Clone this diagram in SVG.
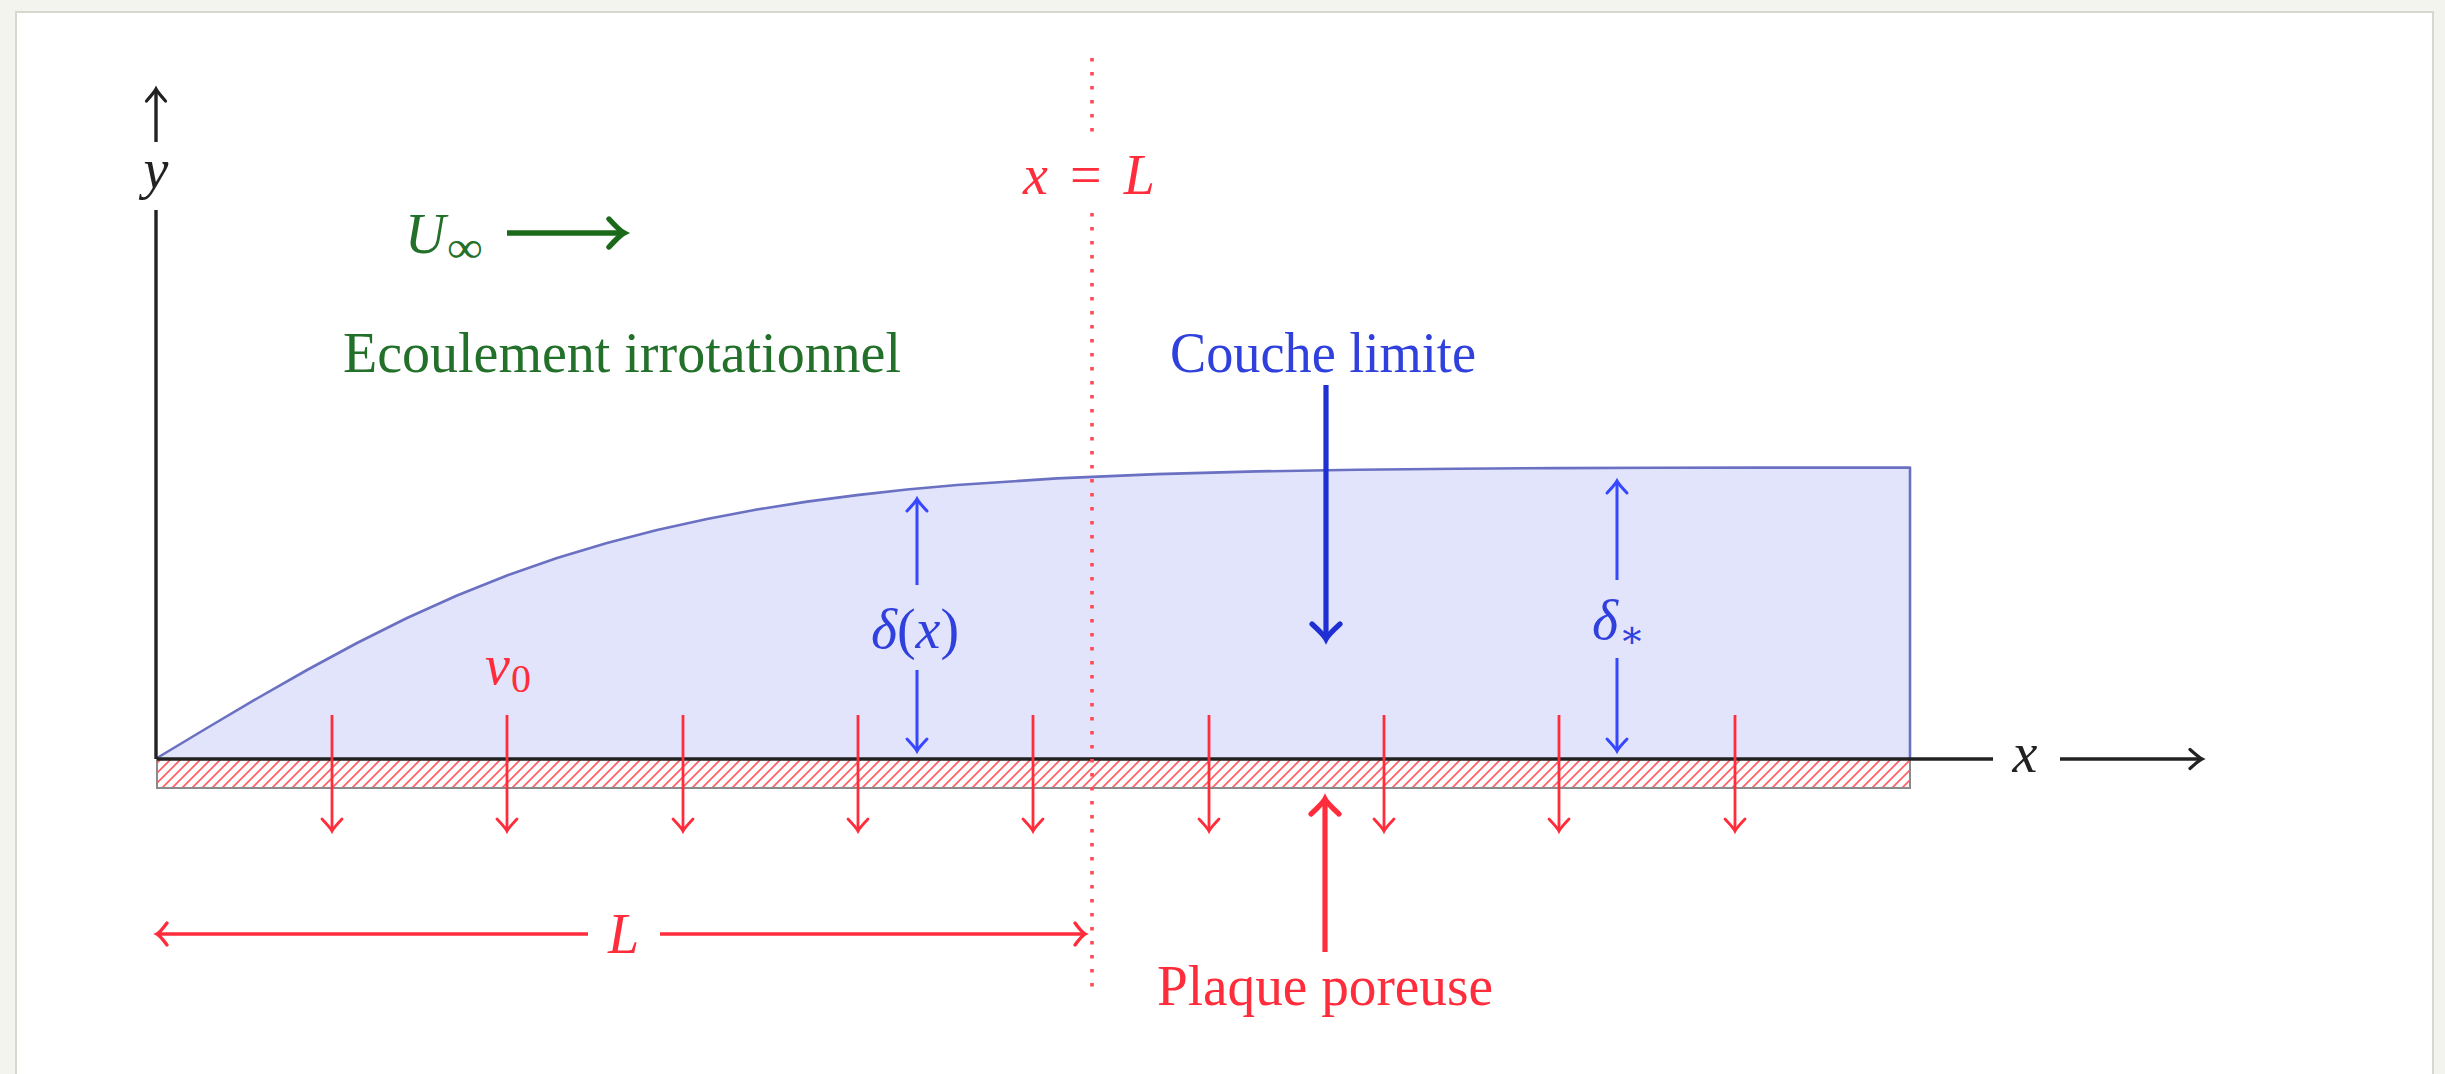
<svg xmlns="http://www.w3.org/2000/svg" width="2445" height="1074" viewBox="0 0 2445 1074">
<style>
  .serif { font-family: "Liberation Serif", "DejaVu Serif", serif; font-size: 56px; }
  .it { font-style: italic; }
  .red { fill: #ff2d3c; }
  .green { fill: #23702a; }
  .blue { fill: #3040dd; }
  .blk { fill: #222; }
  .axis { stroke: #222; stroke-width: 3.4; fill: none; }
  .rarrow { stroke: #ff2d3c; stroke-width: 2.8; fill: none; }
  .barrow { stroke: #3548ff; stroke-width: 3; fill: none; }
</style>
<defs>
  <marker id="ah-black" markerUnits="userSpaceOnUse" orient="auto" refX="0" refY="0" markerWidth="30" markerHeight="30" viewBox="-20 -15 30 30" overflow="visible">
    <path d="M-12,-9.5 Q-3,-1.5 0,0 Q-3,1.5 -12,9.5" fill="none" stroke="#222" stroke-width="3.2" stroke-linecap="round"/>
  </marker>
  <marker id="ah-red-s" markerUnits="userSpaceOnUse" orient="auto" refX="0" refY="0" markerWidth="30" markerHeight="30" viewBox="-20 -15 30 30" overflow="visible">
    <path d="M-12,-10 Q-3,-1.5 0,0 Q-3,1.5 -12,10" fill="none" stroke="#ff2d3c" stroke-width="2.8" stroke-linecap="round"/>
  </marker>
  <marker id="ah-red-b" markerUnits="userSpaceOnUse" orient="auto" refX="0" refY="0" markerWidth="40" markerHeight="40" viewBox="-25 -20 40 40" overflow="visible">
    <path d="M-15,-14 Q-4,-2 0,0 Q-4,2 -15,14" fill="none" stroke="#ff2d3c" stroke-width="5.2" stroke-linecap="round"/>
  </marker>
  <marker id="ah-red-m" markerUnits="userSpaceOnUse" orient="auto" refX="0" refY="0" markerWidth="30" markerHeight="30" viewBox="-20 -15 30 30" overflow="visible">
    <path d="M-10,-11 Q-3,-1.5 0,0 Q-3,1.5 -10,11" fill="none" stroke="#ff2d3c" stroke-width="3.4" stroke-linecap="round"/>
  </marker>
  <marker id="ah-blue-s" markerUnits="userSpaceOnUse" orient="auto" refX="0" refY="0" markerWidth="30" markerHeight="30" viewBox="-20 -15 30 30" overflow="visible">
    <path d="M-12,-10 Q-3,-1.5 0,0 Q-3,1.5 -12,10" fill="none" stroke="#3548ff" stroke-width="3" stroke-linecap="round"/>
  </marker>
  <marker id="ah-blue-b" markerUnits="userSpaceOnUse" orient="auto" refX="0" refY="0" markerWidth="40" markerHeight="40" viewBox="-25 -20 40 40" overflow="visible">
    <path d="M-15,-14 Q-4,-2 0,0 Q-4,2 -15,14" fill="none" stroke="#1f2fd4" stroke-width="5.2" stroke-linecap="round"/>
  </marker>
  <marker id="ah-green-b" markerUnits="userSpaceOnUse" orient="auto" refX="0" refY="0" markerWidth="40" markerHeight="40" viewBox="-25 -20 40 40" overflow="visible">
    <path d="M-15,-14 Q-4,-2 0,0 Q-4,2 -15,14" fill="none" stroke="#1b6a1b" stroke-width="5.4" stroke-linecap="round"/>
  </marker>
  <pattern id="hatch" patternUnits="userSpaceOnUse" width="10" height="10">
    <path d="M-2.5,2.5 l5,-5 M0,10 l10,-10 M7.5,12.5 l5,-5" stroke="#ff6268" stroke-width="1.8"/>
  </pattern>
</defs>

<rect x="0" y="0" width="2445" height="1074" fill="#f4f4ee"/>
<rect id="panel" x="16" y="12" width="2417" height="1070" fill="#ffffff" stroke="#d8d8d0" stroke-width="2"/>

<g id="boundary-layer">
  <path d="M157,758 L207,728 L257,698.5 L307,670 L357,643 L407,618 L457,595.5 L507,575.5 L557,558 L607,543 L657,530 L707,519 L757,509.5 L807,501.6 L857,495.1 L907,489.5 L957,485 L1057,478.4 L1157,474.1 L1257,471.4 L1357,469.7 L1457,468.7 L1557,468.1 L1657,467.8 L1757,467.6 L1910,467.5 L1910,758 Z" fill="#e2e4fb" stroke="none"/>
  <path d="M157,758 L207,728 L257,698.5 L307,670 L357,643 L407,618 L457,595.5 L507,575.5 L557,558 L607,543 L657,530 L707,519 L757,509.5 L807,501.6 L857,495.1 L907,489.5 L957,485 L1057,478.4 L1157,474.1 L1257,471.4 L1357,469.7 L1457,468.7 L1557,468.1 L1657,467.8 L1757,467.6 L1910,467.5 L1910,758" fill="none" stroke="#6a70c2" stroke-width="2.6" stroke-linejoin="round"/>
</g>

<g id="plate">
  <rect x="157" y="759" width="1753" height="29" fill="#ffffff"/>
  <rect x="157" y="759" width="1753" height="29" fill="url(#hatch)" stroke="#8a8a8a" stroke-width="2"/>
</g>

<g id="axes">
  <line class="axis" x1="157" y1="759" x2="1993" y2="759"/>
  <line class="axis" x1="2060" y1="759" x2="2202" y2="759" marker-end="url(#ah-black)"/>
  <line class="axis" x1="156" y1="759" x2="156" y2="210"/>
  <line class="axis" x1="156" y1="142" x2="156" y2="89" marker-end="url(#ah-black)"/>
  <text class="serif it blk" x="156" y="188" text-anchor="middle">y</text>
  <text class="serif it blk" x="2025" y="772" text-anchor="middle">x</text>
</g>

<g id="connectors">
  <g id="suction-arrows">
    <line class="rarrow" x1="332" y1="715" x2="332" y2="831" marker-end="url(#ah-red-s)"/>
    <line class="rarrow" x1="507" y1="715" x2="507" y2="831" marker-end="url(#ah-red-s)"/>
    <line class="rarrow" x1="683" y1="715" x2="683" y2="831" marker-end="url(#ah-red-s)"/>
    <line class="rarrow" x1="858" y1="715" x2="858" y2="831" marker-end="url(#ah-red-s)"/>
    <line class="rarrow" x1="1033" y1="715" x2="1033" y2="831" marker-end="url(#ah-red-s)"/>
    <line class="rarrow" x1="1209" y1="715" x2="1209" y2="831" marker-end="url(#ah-red-s)"/>
    <line class="rarrow" x1="1384" y1="715" x2="1384" y2="831" marker-end="url(#ah-red-s)"/>
    <line class="rarrow" x1="1559" y1="715" x2="1559" y2="831" marker-end="url(#ah-red-s)"/>
    <line class="rarrow" x1="1735" y1="715" x2="1735" y2="831" marker-end="url(#ah-red-s)"/>
  </g>
  <g id="dotted-xL">
    <line x1="1092" y1="58" x2="1092" y2="140" stroke="#ff4a55" stroke-width="3.6" stroke-dasharray="3.6 10.4"/>
    <line x1="1092" y1="213" x2="1092" y2="993" stroke="#ff4a55" stroke-width="3.6" stroke-dasharray="3.6 10.4"/>
  </g>
  <g id="delta-x-arrows">
    <line class="barrow" x1="917" y1="585" x2="917" y2="499" marker-end="url(#ah-blue-s)"/>
    <line class="barrow" x1="917" y1="670" x2="917" y2="751" marker-end="url(#ah-blue-s)"/>
  </g>
  <g id="delta-star-arrows">
    <line class="barrow" x1="1617" y1="580" x2="1617" y2="481" marker-end="url(#ah-blue-s)"/>
    <line class="barrow" x1="1617" y1="658" x2="1617" y2="751" marker-end="url(#ah-blue-s)"/>
  </g>
  <line id="couche-arrow" x1="1326" y1="385" x2="1326" y2="639" stroke="#1f2fd4" stroke-width="5.2" marker-end="url(#ah-blue-b)"/>
  <line id="plaque-arrow" x1="1325" y1="952" x2="1325" y2="799" stroke="#ff2d3c" stroke-width="5.2" marker-end="url(#ah-red-b)"/>
  <line id="u-arrow" x1="507" y1="233" x2="624" y2="233" stroke="#1b6a1b" stroke-width="5.4" marker-end="url(#ah-green-b)"/>
  <g id="L-arrows">
    <line x1="588" y1="934" x2="157" y2="934" stroke="#ff2d3c" stroke-width="3.4" marker-end="url(#ah-red-m)"/>
    <line x1="660" y1="934" x2="1085" y2="934" stroke="#ff2d3c" stroke-width="3.4" marker-end="url(#ah-red-m)"/>
  </g>
</g>

<g id="label-ecoulement">
  <text class="serif green" x="343" y="372" textLength="558" lengthAdjust="spacingAndGlyphs">Ecoulement irrotationnel</text>
</g>
<g id="label-couche">
  <text class="serif blue" x="1170" y="372" textLength="306" lengthAdjust="spacingAndGlyphs">Couche limite</text>
</g>
<g id="label-plaque">
  <text class="serif red" x="1157" y="1005" textLength="336" lengthAdjust="spacingAndGlyphs">Plaque poreuse</text>
</g>
<g id="label-xL">
  <text class="serif red" x="1023" y="194" textLength="132" lengthAdjust="spacing"><tspan class="it">x</tspan> = <tspan class="it">L</tspan></text>
</g>
<g id="label-U">
  <text class="serif it green" x="405" y="253">U</text>
  <text class="serif green" x="447" y="262" style="font-size:44px" textLength="36" lengthAdjust="spacingAndGlyphs">∞</text>
</g>
<g id="label-v0">
  <text class="serif it red" x="485" y="684">v</text>
  <text class="serif red" x="511" y="692" style="font-size:40px">0</text>
</g>
<g id="label-delta-x">
  <text class="serif blue" x="915" y="648" text-anchor="middle"><tspan class="it">δ</tspan>(<tspan class="it">x</tspan>)</text>
</g>
<g id="label-delta-star">
  <text class="serif it blue" x="1592" y="639">δ</text>
  <text class="serif blue" x="1619" y="647" style="font-size:38px">∗</text>
</g>
<g id="label-L">
  <text class="serif it red" x="608" y="953">L</text>
</g>
</svg>
